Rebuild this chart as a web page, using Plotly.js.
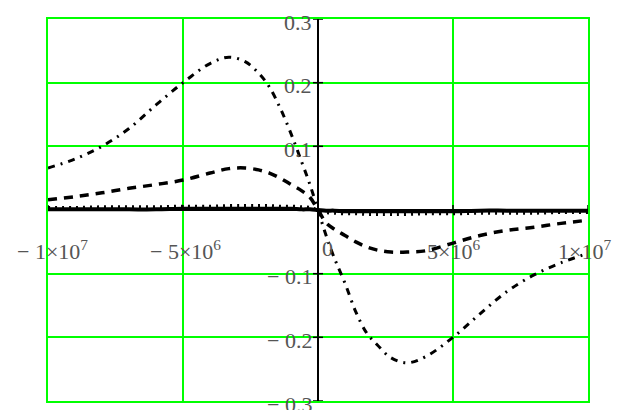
<!DOCTYPE html>
<html>
<head>
<meta charset="utf-8">
<script src="https://cdn.plot.ly/plotly-3.0.1.min.js"></script>
<style>html,body{margin:0;padding:0;background:#fff;}#chart{width:623px;height:410px;}</style>
</head>
<body>
<div id="chart"></div>
<script>
// x positions
var xs = [-1e7,-9e6,-8e6,-7e6,-6e6,-5e6,-4e6,-3.3e6,-2.7e6,-2.2e6,-1.8e6,-1.4e6,-1e6,-6e5,-3e5,0,
          3e5,6e5,1e6,1.4e6,1.8e6,2.2e6,2.7e6,3.3e6,4e6,5e6,6e6,7e6,8e6,9e6,1e7];
// dash-dot curve (large)
var curveA = [0.066,0.080,0.100,0.128,0.165,0.200,0.230,0.240,0.233,0.215,0.193,0.160,0.120,0.075,0.040,0,
              -0.040,-0.075,-0.115,-0.160,-0.193,-0.212,-0.232,-0.240,-0.230,-0.200,-0.163,-0.128,-0.102,-0.083,-0.068];
// dashed curve (medium)
var curveB = [0.016,0.021,0.027,0.034,0.040,0.047,0.058,0.065,0.066,0.063,0.058,0.050,0.040,0.030,0.020,0,
              -0.020,-0.030,-0.040,-0.050,-0.058,-0.063,-0.066,-0.066,-0.064,-0.052,-0.040,-0.032,-0.027,-0.021,-0.016];
// dotted curve (small)
var curveC = [0.004,0.004,0.005,0.005,0.005,0.006,0.006,0.007,0.007,0.007,0.007,0.006,0.006,0.005,0.004,0,
              -0.004,-0.005,-0.006,-0.006,-0.007,-0.007,-0.007,-0.007,-0.006,-0.006,-0.005,-0.005,-0.005,-0.004,-0.004];
// solid curve (tiny)
var curveD = [0.001,0.001,0.001,0.001,0.001,0.002,0.002,0.002,0.002,0.002,0.002,0.002,0.002,0.001,0.001,0,
              -0.001,-0.001,-0.002,-0.002,-0.002,-0.002,-0.002,-0.002,-0.002,-0.002,-0.001,-0.001,-0.001,-0.001,-0.001];

var xTickVals = [-1e7,-5e6,0,5e6,1e7];
var xTickText = ["\u2212 1\u00d710<sup>7</sup>","\u2212 5\u00d710<sup>6</sup>","0","5\u00d710<sup>6</sup>","1\u00d710<sup>7</sup>"];
var xTickShift = [4,2,9,0,-4];
var yTickVals = [0.3,0.2,0.1,-0.1,-0.2,-0.3];
var yTickText = ["0.3","0.2","0.1","\u2212 0.1","\u2212 0.2","\u2212 0.3"];

var traces = [
  {x: xs, y: curveD, mode:'lines', line:{color:'#000', width:4}},
  {x: xs, y: curveC, mode:'lines', line:{color:'#000', width:3, dash:'2px,5px'}},
  {x: xs, y: curveB, mode:'lines', line:{color:'#000', width:3.5, dash:'9px,7px'}},
  {x: xs, y: curveA, mode:'lines', line:{color:'#000', width:3, dash:'7px,6px,2px,6px'}}
];
traces.forEach(function(t){ t.line.shape = 'spline'; t.hoverinfo='skip'; });

var fnt = {family:'Liberation Serif, Times New Roman, serif', size:22, color:'#555'};
var annotations = [];
xTickVals.forEach(function(v,i){
  annotations.push({x:v, y:0, xref:'x', yref:'y', text:xTickText[i], showarrow:false,
    xanchor:'center', yanchor:'middle', xshift:xTickShift[i], yshift:(v===0?-38:-40), font:fnt});
});
yTickVals.forEach(function(v,i){
  annotations.push({x:0, y:v, xref:'x', yref:'y', text:yTickText[i], showarrow:false,
    xanchor:'right', yanchor:'middle', xshift:-4, yshift:-3, font:fnt});
});

var shapes = [];
yTickVals.forEach(function(v){
  shapes.push({type:'line', xref:'x', yref:'y', xsizemode:'pixel', xanchor:0, x0:-5, x1:5, y0:v, y1:v,
    line:{color:'#000', width:1.5}});
});
xTickVals.forEach(function(v){
  if (v===0) return;
  shapes.push({type:'line', xref:'x', yref:'y', ysizemode:'pixel', yanchor:0, y0:0, y1:5, x0:v, x1:v,
    line:{color:'#000', width:1.5}});
});

var layout = {
  width:623, height:410,
  margin:{l:48, r:35, t:19, b:9},
  paper_bgcolor:'#fff', plot_bgcolor:'#fff',
  showlegend:false,
  xaxis:{range:[-1e7,1e7], tickvals:xTickVals, showticklabels:false, ticks:'',
    showgrid:true, gridcolor:'#00ff00', gridwidth:2,
    zeroline:true, zerolinecolor:'#000', zerolinewidth:2,
    showline:true, linecolor:'#00ff00', linewidth:2, mirror:true, fixedrange:true},
  yaxis:{range:[-0.3,0.3], tickvals:yTickVals, showticklabels:false, ticks:'',
    showgrid:true, gridcolor:'#00ff00', gridwidth:2,
    zeroline:true, zerolinecolor:'#000', zerolinewidth:2.5,
    showline:true, linecolor:'#00ff00', linewidth:2, mirror:true, fixedrange:true},
  annotations:annotations,
  shapes:shapes
};

Plotly.newPlot('chart', traces, layout, {displayModeBar:false, staticPlot:true});
</script>
</body>
</html>
